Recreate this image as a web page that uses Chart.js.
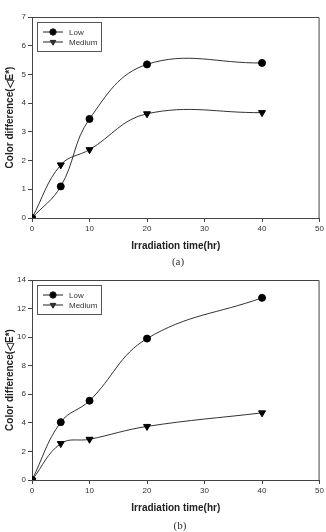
<!DOCTYPE html>
<html>
<head>
<meta charset="utf-8">
<script src="https://cdn.jsdelivr.net/npm/chart.js@4/dist/chart.umd.min.js"></script>
<style>
  body { margin: 0; background: #fff; width: 326px; height: 532px; position: relative; overflow: hidden; }
  .wrap { position: absolute; left: 0; width: 326px; height: 256px; }
  .cap { position: absolute; font-family: "Liberation Serif", serif; font-size: 11px; color: #333; transform: translateX(-50%); }
</style>
</head>
<body>
<div class="wrap" style="top:0"><canvas id="chartA"></canvas></div>
<div class="wrap" style="top:262px"><canvas id="chartB"></canvas></div>
<div class="cap" style="left:178px; top:255px">(a)</div>
<div class="cap" style="left:180px; top:519px">(b)</div>
<script>
// irradiation times (hr)
const hours = [0, 5, 10, 20, 40];

// panel (a)
const lowA = [0, 1.1, 3.45, 5.35, 5.4];
const mediumA = [0, 1.85, 2.38, 3.63, 3.67];

// panel (b)
const lowB = [0, 4.05, 5.55, 9.9, 12.75];
const mediumB = [0, 2.55, 2.85, 3.75, 4.7];

const seriesNames = ['Low', 'Medium'];

// box around the plot + legend inside top-left corner
const boxLegend = {
    id: 'boxLegend',
    afterDraw(chart) {
        const ctx = chart.ctx;
        const a = chart.chartArea;
        ctx.save();
        ctx.strokeStyle = '#444';
        ctx.lineWidth = 1;
        ctx.beginPath();
        ctx.moveTo(a.left, a.top + 0.5);
        ctx.lineTo(a.right - 0.5, a.top + 0.5);
        ctx.lineTo(a.right - 0.5, a.bottom);
        ctx.stroke();

        const x = a.left + 5, y = a.top + 5;
        ctx.strokeStyle = '#555';
        ctx.strokeRect(x + 0.5, y + 0.5, 64, 29);
        chart.data.datasets.forEach((ds, i) => {
            const cy = y + 10 + i * 10;
            ctx.strokeStyle = '#222';
            ctx.beginPath();
            ctx.moveTo(x + 6, cy);
            ctx.lineTo(x + 26, cy);
            ctx.stroke();
            Chart.helpers.drawPoint(ctx, {
                pointStyle: ds.pointStyle, radius: 3.2, rotation: ds.pointRotation || 0, borderWidth: 1
            }, x + 16, cy);
            ctx.fillStyle = '#333';
            ctx.font = '8px "Liberation Sans", Arial, sans-serif';
            ctx.textBaseline = 'middle';
            ctx.fillText(ds.label, x + 32, cy + 0.5);
        });
        ctx.restore();
    }
};

function makeChart(id, low, medium, yMax, yStep, padTop) {
    const tickFont = { family: '"Liberation Sans", Arial, sans-serif', size: 8 };
    const titleFont = { family: '"Liberation Sans", Arial, sans-serif', size: 10, weight: 'bold' };
    const common = {
        borderColor: '#333', borderWidth: 1, backgroundColor: '#000',
        pointBorderColor: '#000', pointRadius: 3.5, pointHoverRadius: 3.5, tension: 0.4, fill: false
    };
    new Chart(document.getElementById(id), {
        type: 'line',
        data: {
            datasets: [
                { ...common, label: seriesNames[0], data: hours.map((h, i) => ({ x: h, y: low[i] })), pointStyle: 'circle' },
                { ...common, label: seriesNames[1], data: hours.map((h, i) => ({ x: h, y: medium[i] })), pointStyle: 'triangle', pointRotation: 180, pointRadius: 4 }
            ]
        },
        options: {
            responsive: true,
            maintainAspectRatio: false,
            animation: false,
            layout: { padding: { top: padTop, right: 6, left: 0, bottom: 0 } },
            plugins: { legend: { display: false }, tooltip: { enabled: false } },
            scales: {
                x: {
                    type: 'linear', min: 0, max: 50,
                    ticks: { stepSize: 10, font: tickFont, color: '#333', padding: 2 },
                    grid: { drawOnChartArea: false, tickLength: 4, color: '#444' },
                    border: { color: '#444' },
                    title: { display: true, text: 'Irradiation time(hr)', font: titleFont, color: '#222', padding: { top: 6 } },
                    afterFit: s => { s.height = 38; }
                },
                y: {
                    min: 0, max: yMax,
                    ticks: { stepSize: yStep, font: tickFont, color: '#333', padding: 2 },
                    grid: { drawOnChartArea: false, tickLength: 4, color: '#444' },
                    border: { color: '#444' },
                    title: { display: true, text: 'Color difference(◁E*)', font: titleFont, color: '#222', padding: { bottom: 2 } },
                    afterFit: s => { s.width = 32; }
                }
            }
        },
        plugins: [boxLegend]
    });
}

makeChart('chartA', lowA, mediumA, 7, 1, 17);
makeChart('chartB', lowB, mediumB, 14, 2, 18);
</script>
</body>
</html>
